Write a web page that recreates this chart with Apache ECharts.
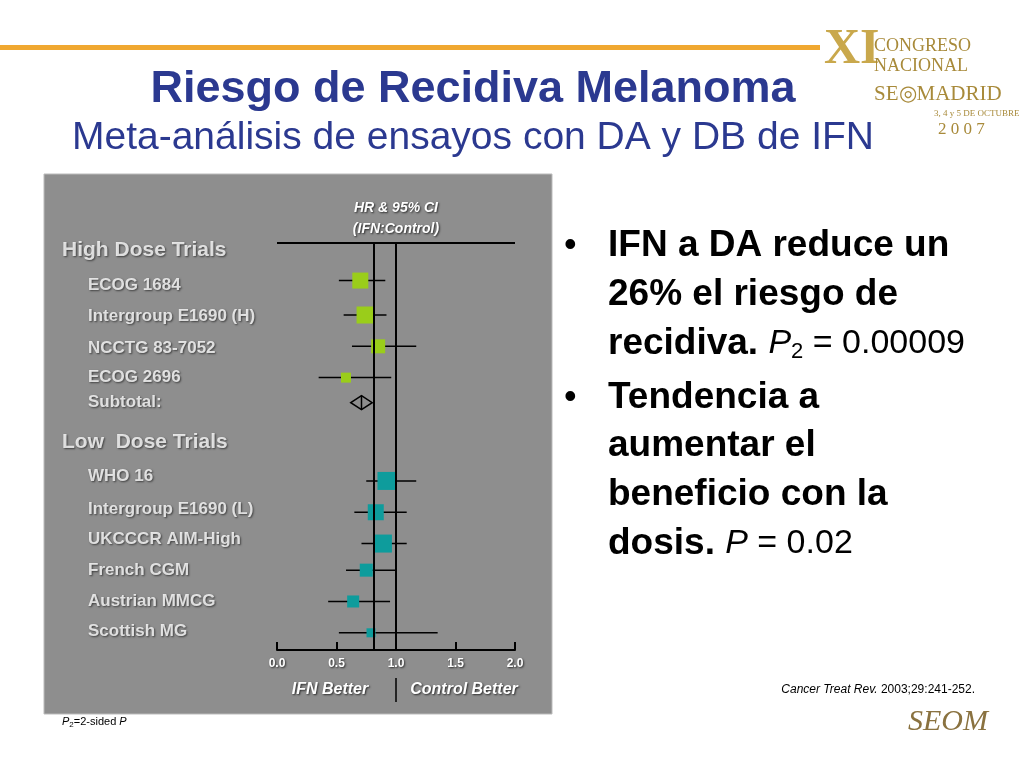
<!DOCTYPE html>
<html><head><meta charset="utf-8">
<script src="https://cdn.jsdelivr.net/npm/echarts@6/dist/echarts.min.js"></script>
<style>html,body{margin:0;padding:0;background:#fff}#c{width:1024px;height:768px}</style>
</head><body><div id="c"></div>
<script>
var chart = echarts.init(document.getElementById('c'));

// trial rows: name, row, HR, low, high, box size, group
var trialNames = ['ECOG 1684','Intergroup E1690 (H)','NCCTG 83-7052','ECOG 2696',
  'WHO 16','Intergroup E1690 (L)','UKCCCR AIM-High','French CGM','Austrian MMCG','Scottish MG'];
var trialRows = [1.2, 2.3, 3.3, 4.3, 7.6, 8.6, 9.6, 10.45, 11.45, 12.45];
var labelRows = [1.35, 2.35, 3.35, 4.3, 7.45, 8.5, 9.45, 10.45, 11.45, 12.4];
var hr   = [0.70, 0.74, 0.85, 0.58, 0.92, 0.83, 0.89, 0.75, 0.64, 0.79];
var low  = [0.52, 0.56, 0.63, 0.35, 0.75, 0.65, 0.71, 0.58, 0.43, 0.52];
var high = [0.91, 0.92, 1.17, 0.96, 1.17, 1.09, 1.09, 1.00, 0.95, 1.35];
var boxSize = [16, 17, 14, 10, 18, 16, 18, 13, 12, 9];
var isHigh = [1,1,1,1,0,0,0,0,0,0];
var subtotal = {row: 5.1, hr: 0.71, low: 0.62, high: 0.80};
var overallHR = 0.81;
var groupLabels = ['High Dose Trials', 'Low  Dose Trials'];
var groupRows = [0.22, 6.36];

var shadow = {textShadowColor:'rgba(0,0,0,0.7)', textShadowBlur:2, textShadowOffsetX:1, textShadowOffsetY:1};
function wt(x, y, text, font) {
  return {type:'text', x:x, y:y, style:Object.assign({text:text, fill:'#fff', font:font, textAlign:'center', textVerticalAlign:'middle'}, shadow)};
}
function bt(x, y, text) {
  return {type:'text', x:x, y:y, style:{text:text, fill:'#000', font:'bold 37px "Liberation Sans"', textVerticalAlign:'middle'}};
}
var richBullet = {b:{font:'bold 37px "Liberation Sans"', fill:'#000'}, p:{font:'italic 34px "Liberation Sans"', fill:'#000'},
  s:{font:'22px "Liberation Sans"', fill:'#000', padding:[16,0,0,0]}, n:{font:'34px "Liberation Sans"', fill:'#000'}};

var trialData = trialNames.map(function (n, i) {
  return [hr[i], trialRows[i], low[i], high[i], boxSize[i], isHigh[i]];
});
var labelData = [];
groupLabels.forEach(function (g, i) { labelData.push({value:[0, groupRows[i]], name:g, label:{fontSize:21}}); });
trialNames.forEach(function (n, i) { labelData.push({value:[1.3, labelRows[i]], name:n}); });
labelData.push({value:[1.3, subtotal.row], name:'Subtotal:'});

var option = {
  animation: false,
  backgroundColor: '#fff',
  grid: [
    {left:277, right:509, top:243, bottom:118},
    {left:62, width:200, top:243, bottom:118}
  ],
  xAxis: [
    {gridIndex:0, type:'value', min:0, max:2, interval:0.5, position:'bottom',
     axisLine:{onZero:false, lineStyle:{color:'#000', width:2}},
     axisTick:{inside:true, length:8, lineStyle:{color:'#000', width:2}},
     splitLine:{show:false},
     axisLabel:Object.assign({color:'#fff', fontFamily:'Liberation Sans', fontWeight:'bold', fontSize:12, margin:8,
       formatter:function(v){return v.toFixed(1);}}, shadow)},
    {gridIndex:1, type:'value', min:0, max:10, show:false}
  ],
  yAxis: [
    {gridIndex:0, type:'value', min:0, max:13, inverse:true, show:false},
    {gridIndex:1, type:'value', min:0, max:13, inverse:true, show:false}
  ],
  graphic: [
    {type:'rect', shape:{x:0, y:45, width:820, height:5}, style:{fill:'#f0a830'}},
    {type:'rect', shape:{x:44, y:174, width:508, height:540}, style:{fill:'#8e8e8e', stroke:'#bbb', lineWidth:1}},
    {type:'text', x:473, y:90, style:{text:'Riesgo de Recidiva Melanoma', fill:'#2b3990', font:'bold 45px "Liberation Sans"', textAlign:'center', textVerticalAlign:'middle'}},
    {type:'text', x:473, y:138, style:{text:'Meta-análisis de ensayos con DA y DB de IFN', fill:'#2b3990', font:'39px "Liberation Sans"', textAlign:'center', textVerticalAlign:'middle'}},
    // logo approximation
    {type:'text', x:824, y:50, style:{text:'XI', fill:'#c9a84c', font:'bold 50px "Liberation Serif"', textVerticalAlign:'middle'}},
    {type:'text', x:874, y:46, style:{text:'CONGRESO', fill:'#a88a3a', font:'18px "Liberation Serif"', textVerticalAlign:'middle'}},
    {type:'text', x:874, y:66, style:{text:'NACIONAL', fill:'#a88a3a', font:'18px "Liberation Serif"', textVerticalAlign:'middle'}},
    {type:'text', x:874, y:94, style:{text:'SE◎MADRID', fill:'#a88a3a', font:'21px "Liberation Serif"', textVerticalAlign:'middle'}},
    {type:'text', x:934, y:114, style:{text:'3, 4 y 5 DE OCTUBRE', fill:'#a88a3a', font:'9px "Liberation Serif"', textVerticalAlign:'middle'}},
    {type:'text', x:938, y:130, style:{text:'2 0 0 7', fill:'#a88a3a', font:'17px "Liberation Serif"', textVerticalAlign:'middle'}},
    // forest panel texts
    wt(396, 208, 'HR & 95% CI', 'italic bold 14px "Liberation Sans"'),
    wt(396, 229, '(IFN:Control)', 'italic bold 14px "Liberation Sans"'),
    {type:'line', shape:{x1:277, y1:243, x2:515, y2:243}, style:{stroke:'#000', lineWidth:2}},
    {type:'line', shape:{x1:396, y1:678, x2:396, y2:702}, style:{stroke:'#000', lineWidth:1.5}},
    wt(330, 690, 'IFN Better', 'italic bold 16px "Liberation Sans"'),
    wt(464, 690, 'Control Better', 'italic bold 16px "Liberation Sans"'),
    // bullets
    {type:'text', x:564, y:246, style:{text:'•', fill:'#000', font:'36px "Liberation Sans"', textVerticalAlign:'middle'}},
    bt(608, 246, 'IFN a DA reduce un'),
    bt(608, 295, '26% el riesgo de'),
    {type:'text', x:608, y:344, style:{rich:richBullet, text:'{b|recidiva. }{p|P}{s|2}{n| = 0.00009}', textVerticalAlign:'middle'}},
    {type:'text', x:564, y:398, style:{text:'•', fill:'#000', font:'36px "Liberation Sans"', textVerticalAlign:'middle'}},
    bt(608, 398, 'Tendencia a'),
    bt(608, 446, 'aumentar el'),
    bt(608, 495, 'beneficio con la'),
    {type:'text', x:608, y:544, style:{rich:richBullet, text:'{b|dosis. }{p|P}{n| = 0.02}', textVerticalAlign:'middle'}},
    {type:'text', x:975, y:690, style:{rich:{i:{font:'italic 12px "Liberation Sans"', fill:'#000'}, n:{font:'12px "Liberation Sans"', fill:'#000'}},
      text:'{i|Cancer Treat Rev.} {n|2003;29:241-252.}', textAlign:'right', textVerticalAlign:'middle'}},
    {type:'text', x:62, y:722, style:{rich:{i:{font:'italic 11px "Liberation Sans"', fill:'#000'}, s:{font:'8px "Liberation Sans"', fill:'#000', padding:[5,0,0,0]}, n:{font:'11px "Liberation Sans"', fill:'#000'}},
      text:'{i|P}{s|2}{n|=2-sided }{i|P}', textVerticalAlign:'middle'}},
    {type:'text', x:948, y:722, style:{text:'SEOM', fill:'#8a7240', font:'italic 30px "Liberation Serif"', textAlign:'center', textVerticalAlign:'middle'}}
  ],
  series: [
    {type:'custom', xAxisIndex:0, yAxisIndex:0, data:trialData,
     renderItem:function (params, api) {
       var c = api.coord([api.value(0), api.value(1)]);
       var l = api.coord([api.value(2), api.value(1)]);
       var h = api.coord([api.value(3), api.value(1)]);
       var s = api.value(4);
       return {type:'group', children:[
         {type:'line', shape:{x1:l[0], y1:c[1], x2:h[0], y2:c[1]}, style:{stroke:'#000', lineWidth:1.5}},
         {type:'rect', shape:{x:c[0]-s/2, y:c[1]-s/2, width:s, height:s}, style:{fill: api.value(5) ? '#9acd1a' : '#0e9c9c'}}
       ]};
     },
     markLine:{silent:true, symbol:'none', label:{show:false}, lineStyle:{color:'#000', width:2, type:'solid'},
       data:[{xAxis:overallHR}, {xAxis:1.0}]},
     z:3},
    {type:'custom', xAxisIndex:0, yAxisIndex:0, data:[[subtotal.hr, subtotal.row, subtotal.low, subtotal.high]],
     renderItem:function (params, api) {
       var c = api.coord([api.value(0), api.value(1)]);
       var l = api.coord([api.value(2), api.value(1)]);
       var h = api.coord([api.value(3), api.value(1)]);
       return {type:'group', children:[
         {type:'polygon', shape:{points:[[l[0], c[1]], [c[0], c[1]-7], [h[0], c[1]], [c[0], c[1]+7]]}, style:{fill:'none', stroke:'#000', lineWidth:1.5}},
         {type:'line', shape:{x1:c[0], y1:c[1]-7, x2:c[0], y2:c[1]+7}, style:{stroke:'#000', lineWidth:1.5}}
       ]};
     }, z:4},
    {type:'scatter', xAxisIndex:1, yAxisIndex:1, symbolSize:0, data:labelData,
     label:Object.assign({show:true, position:'right', distance:0, formatter:function (p) { return p.name; },
       color:'#fff', fontFamily:'Liberation Sans', fontWeight:'bold', fontSize:17}, shadow)}
  ]
};
chart.setOption(option);
</script>
</body></html>
